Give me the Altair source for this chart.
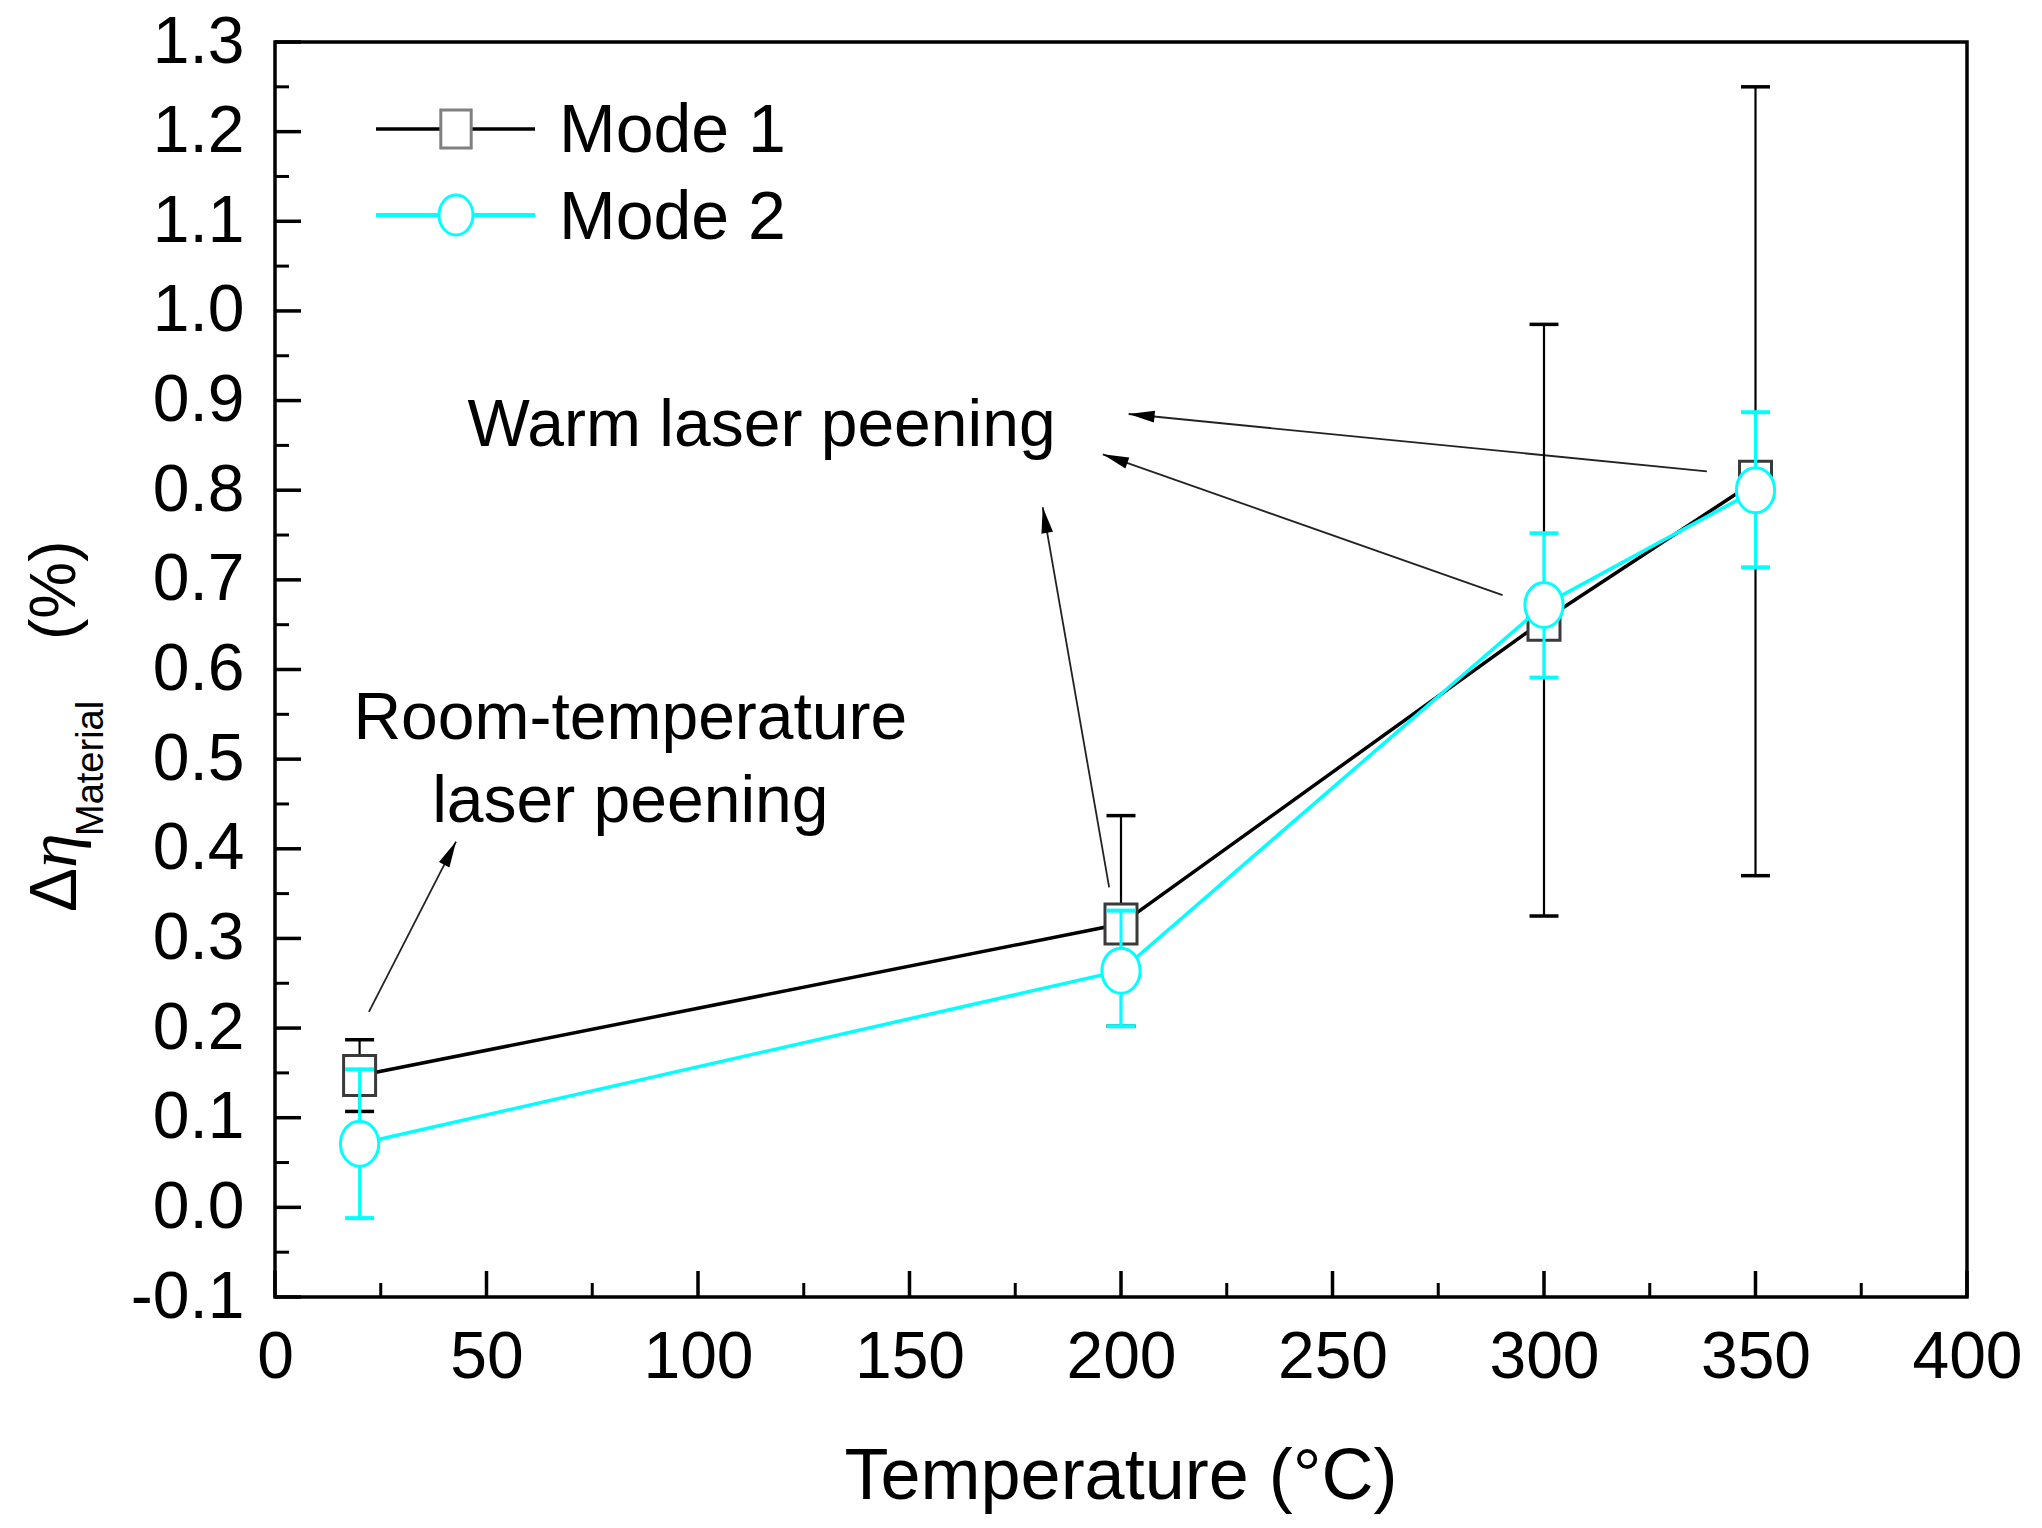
import math
import altair as alt
import pandas as pd

# ---------------- data ----------------
temps = [20, 200, 300, 350]

mode1 = [0.147, 0.316, 0.655, 0.81]
mode1_lo = [0.107, 0.202, 0.325, 0.37]
mode1_hi = [0.187, 0.437, 0.985, 1.25]

mode2 = [0.071, 0.264, 0.672, 0.80]
mode2_lo = [-0.012, 0.202, 0.591, 0.714]
mode2_hi = [0.154, 0.331, 0.752, 0.887]

x_major = [0, 50, 100, 150, 200, 250, 300, 350, 400]
x_minor = [25, 75, 125, 175, 225, 275, 325, 375]
y_major = [-0.1, 0.0, 0.1, 0.2, 0.3, 0.4, 0.5, 0.6, 0.7, 0.8, 0.9, 1.0, 1.1, 1.2, 1.3]
y_minor = [-0.05, 0.05, 0.15, 0.25, 0.35, 0.45, 0.55, 0.65, 0.75, 0.85, 0.95, 1.05, 1.15, 1.25]

# annotation arrows (data coordinates): tail -> tip
arrow_tail_x = [22.2, 197.2, 290.2, 338.5]
arrow_tail_y = [0.218, 0.357, 0.683, 0.821]
arrow_tip_x = [42.8, 181.5, 195.7, 201.8]
arrow_tip_y = [0.408, 0.781, 0.840, 0.885]

ann_texts = ["Warm laser peening", "Room-temperature", "laser peening"]
ann_x = [45.5, 84.0, 84.0]
ann_y = [0.849, 0.522, 0.430]
ann_align = ["left", "center", "center"]

# ---------------- layout ----------------
W, H = 1692, 1255
XMIN, XMAX = 0, 400
YMIN, YMAX = -0.1, 1.3
FONT = "Liberation Sans, Arial, Helvetica, sans-serif"
CYAN = "#00FFFF"

xs = alt.Scale(domain=[XMIN, XMAX], nice=False, zero=False)
ys = alt.Scale(domain=[YMIN, YMAX], nice=False, zero=False)

x_axis = alt.Axis(values=x_major, labelFontSize=66, labelFont=FONT, labelColor="black",
                  labelPadding=28, ticks=False, tickSize=0, domain=False, grid=False,
                  labelFlush=False, labelOverlap=False, title=None)
y_axis = alt.Axis(values=y_major, labelFontSize=66, labelFont=FONT, labelColor="black",
                  labelPadding=31, ticks=False, tickSize=0, domain=False, grid=False,
                  labelFlush=False, labelOverlap=False, title=None,
                  labelExpr="replace(format(datum.value, '.1f'), '\u2212', '-')")

one = pd.DataFrame({"k": [0]})

RECT = "M-0.8,-1L0.8,-1L0.8,1L-0.8,1Z"
ELLIPSE = "M0,-1A0.85,1,0,1,1,0,1A0.85,1,0,1,1,0,-1Z"
HEAD = "M0,0L0.45,2L-0.45,2Z"


def series_layers(vals, lo, hi, color, line_w, err_w, cap_w, shape, size, mstroke):
    df = pd.DataFrame({"T": temps, "v": vals, "lo": lo, "hi": hi})
    base = alt.Chart(df)
    err = base.mark_rule(color=color, strokeWidth=err_w).encode(
        x=alt.X("T:Q", scale=xs, axis=x_axis),
        y=alt.Y("lo:Q", scale=ys, axis=y_axis), y2="hi:Q")
    cap_lo = base.mark_tick(orient="horizontal", size=29, thickness=cap_w, color=color, opacity=1).encode(
        x=alt.X("T:Q", scale=xs), y=alt.Y("lo:Q", scale=ys))
    cap_hi = base.mark_tick(orient="horizontal", size=29, thickness=cap_w, color=color, opacity=1).encode(
        x=alt.X("T:Q", scale=xs), y=alt.Y("hi:Q", scale=ys))
    line = base.mark_line(color=color, strokeWidth=line_w).encode(
        x=alt.X("T:Q", scale=xs), y=alt.Y("v:Q", scale=ys))
    pts = base.mark_point(shape=shape, size=size, filled=True, fill="white", stroke=mstroke,
                          strokeWidth=3, opacity=1).encode(
        x=alt.X("T:Q", scale=xs), y=alt.Y("v:Q", scale=ys))
    return [err, cap_lo, cap_hi, line, pts]


def vtext(txt, x, y, size, angle=None, align="left", italic=False, font=FONT):
    kw = dict(text=txt, fontSize=size, font=font, align=align, baseline="alphabetic", color="black")
    if angle is not None:
        kw["angle"] = angle
    if italic:
        kw["fontStyle"] = "italic"
    return alt.Chart(one).mark_text(**kw).encode(x=alt.value(x), y=alt.value(y))


layers = []

# inward tick marks
layers.append(alt.Chart(pd.DataFrame({"t": x_major})).mark_rule(color="black", strokeWidth=3.5).encode(
    x=alt.X("t:Q", scale=xs), y=alt.value(H), y2=alt.value(H - 26)))
layers.append(alt.Chart(pd.DataFrame({"t": x_minor})).mark_rule(color="black", strokeWidth=3).encode(
    x=alt.X("t:Q", scale=xs), y=alt.value(H), y2=alt.value(H - 14)))
layers.append(alt.Chart(pd.DataFrame({"t": y_major})).mark_rule(color="black", strokeWidth=3.5).encode(
    y=alt.Y("t:Q", scale=ys), x=alt.value(0), x2=alt.value(26)))
layers.append(alt.Chart(pd.DataFrame({"t": y_minor})).mark_rule(color="black", strokeWidth=3).encode(
    y=alt.Y("t:Q", scale=ys), x=alt.value(0), x2=alt.value(14)))

# annotation arrows
angles = []
for tx, ty, hx, hy in zip(arrow_tail_x, arrow_tail_y, arrow_tip_x, arrow_tip_y):
    dx = (hx - tx) * W / (XMAX - XMIN)
    dy = -(hy - ty) * H / (YMAX - YMIN)
    angles.append(math.degrees(math.atan2(dx, -dy)) % 360)
arr = pd.DataFrame({"tx": arrow_tail_x, "ty": arrow_tail_y, "hx": arrow_tip_x, "hy": arrow_tip_y,
                    "ang": angles})
layers.append(alt.Chart(arr).mark_rule(color="#222222", strokeWidth=1.8).encode(
    x=alt.X("tx:Q", scale=xs), y=alt.Y("ty:Q", scale=ys), x2="hx:Q", y2="hy:Q"))
layers.append(alt.Chart(arr).mark_point(shape=HEAD, size=676, filled=True, color="black", opacity=1).encode(
    x=alt.X("hx:Q", scale=xs), y=alt.Y("hy:Q", scale=ys), angle=alt.Angle("ang:Q", scale=None)))

# annotation texts
for t, ax, ay, al in zip(ann_texts, ann_x, ann_y, ann_align):
    layers.append(alt.Chart(one).mark_text(text=t, fontSize=66, font=FONT, align=al,
                                           baseline="alphabetic", color="black").encode(
        x=alt.X("v:Q", scale=xs), y=alt.Y("w:Q", scale=ys)).transform_calculate(
        v=str(ax), w=str(ay)))

# data series
layers += series_layers(mode1, mode1_lo, mode1_hi, "black", 3.5, 2.2, 3.5, RECT, 1600, "#3a3a3a")
layers += series_layers(mode2, mode2_lo, mode2_hi, CYAN, 3.5, 3, 4, ELLIPSE, 2025, CYAN)

# legend
layers.append(alt.Chart(one).mark_rule(color="black", strokeWidth=3.5).encode(
    x=alt.value(101), x2=alt.value(260), y=alt.value(87)))
layers.append(alt.Chart(one).mark_point(shape=RECT, size=1444, filled=True, fill="white",
                                        stroke="#808080", strokeWidth=3, opacity=1).encode(
    x=alt.value(181), y=alt.value(87)))
layers.append(vtext("Mode 1", 284, 110, 68))
layers.append(alt.Chart(one).mark_rule(color=CYAN, strokeWidth=4).encode(
    x=alt.value(101), x2=alt.value(260), y=alt.value(173)))
layers.append(alt.Chart(one).mark_point(shape=ELLIPSE, size=1600, filled=True, fill="white",
                                        stroke=CYAN, strokeWidth=3, opacity=1).encode(
    x=alt.value(181), y=alt.value(173)))
layers.append(vtext("Mode 2", 284, 197, 68))

# axis titles
layers.append(vtext("Temperature (\u00b0C)", 846, 1457, 72, align="center"))
layers.append(vtext("\u0394", -199, 870, 66, angle=270))
layers.append(vtext("\u03b7", -199, 826, 70, angle=270, italic=True,
                    font="Liberation Serif, Times New Roman, serif"))
layers.append(vtext("Material", -172, 794, 38, angle=270))
layers.append(vtext("(%)", -200, 598, 64, angle=270))

chart = alt.layer(*layers).properties(
    width=W, height=H,
    autosize=alt.AutoSizeParams(type="none"),
    padding={"left": 267, "top": 34, "right": 67, "bottom": 223},
    background="white",
).configure_view(stroke="black", strokeWidth=3.5)

chart.save("out.html", embed_options={"renderer": "svg", "actions": False})
